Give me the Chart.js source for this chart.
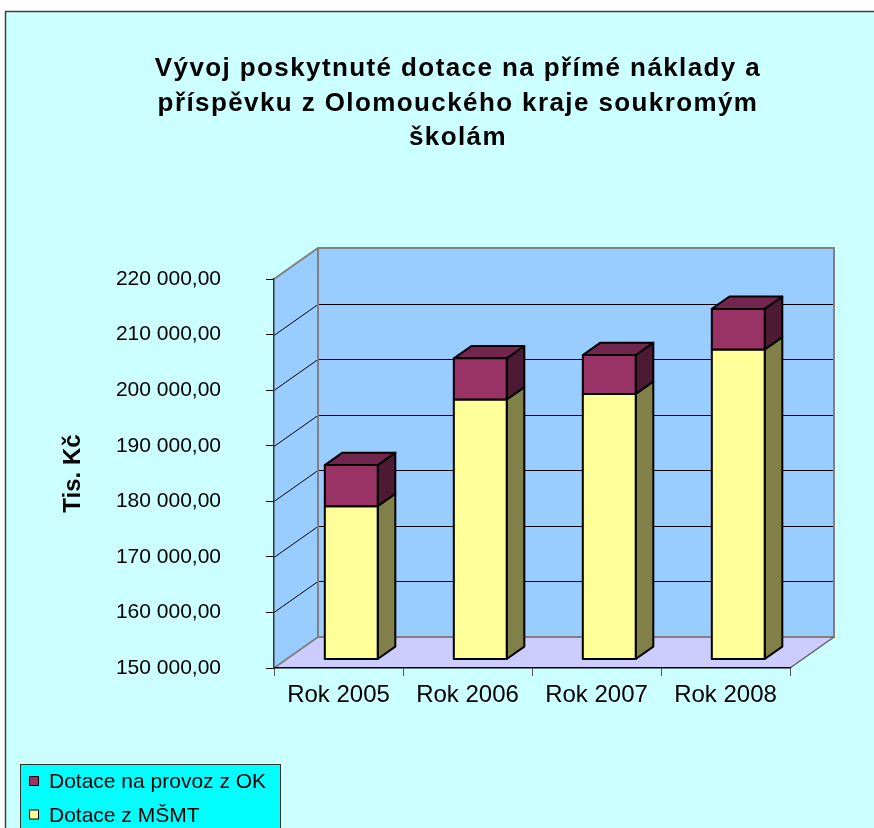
<!DOCTYPE html>
<html lang="cs">
<head>
<meta charset="utf-8">
<title>Vývoj poskytnuté dotace</title>
<script src="https://cdn.jsdelivr.net/npm/chart.js@4.4.1/dist/chart.umd.min.js"></script>
<style>
  html, body { margin: 0; padding: 0; background: #fff; overflow: hidden; }
  canvas { display: block; }
</style>
</head>
<body>
<canvas id="chart" width="874" height="828"></canvas>
<script>
const Categories = ["Rok 2005", "Rok 2006", "Rok 2007", "Rok 2008"];
const DotaceMSMT = [177500, 196700, 197700, 205700];
const DotaceOK = [7400, 7400, 7000, 7300];
const AxisMin = 150000;
const AxisMax = 220000;
const AxisStep = 10000;
const TitleLines = [
  "Vývoj poskytnuté dotace na přímé náklady a",
  "příspěvku z Olomouckého kraje soukromým",
  "školám"
];
const AxisTitle = "Tis. Kč";

// 3D look: how far the back wall sits behind the front plane, and where bars sit in that depth
const Depth = { x: 44, y: 31 };
const BarFront = 0.29;
const BarBack = 0.69;

const FontFamily = '"Liberation Sans", Arial, sans-serif';
Chart.defaults.font.family = FontFamily;
Chart.defaults.color = "#000";

function FormatCzk(value) {
  return String(value).replace(/\B(?=(\d{3})+(?!\d))/g, " ") + ",00";
}

function Poly(ctx, pts, fill, stroke, width) {
  ctx.beginPath();
  ctx.moveTo(pts[0][0], pts[0][1]);
  for (let i = 1; i < pts.length; i++) ctx.lineTo(pts[i][0], pts[i][1]);
  ctx.closePath();
  if (fill) { ctx.fillStyle = fill; ctx.fill(); }
  if (stroke) { ctx.strokeStyle = stroke; ctx.lineWidth = width || 1; ctx.stroke(); }
}

const Frame3D = {
  id: "frame3d",
  beforeDraw(chart) {
    const { ctx, chartArea: a, scales } = chart;
    const dx = Depth.x, dy = Depth.y;
    ctx.save();
    // page + chart background
    ctx.fillStyle = "#fff";
    ctx.fillRect(0, 0, chart.width, chart.height);
    ctx.fillStyle = "#CCFFFF";
    ctx.fillRect(5, 11, chart.width, chart.height);
    ctx.strokeStyle = "#404040";
    ctx.lineWidth = 1.5;
    ctx.strokeRect(5.5, 11.5, chart.width + 10, chart.height + 10);

    // title
    ctx.font = "bold 26px " + FontFamily;
    ctx.letterSpacing = "1.4px";
    ctx.textAlign = "center";
    ctx.textBaseline = "alphabetic";
    ctx.fillStyle = "#000";
    TitleLines.forEach((line, i) => ctx.fillText(line, 458, 76 + i * 34.6));
    ctx.letterSpacing = "0px";

    // walls and floor
    Poly(ctx, [[a.left + dx, a.top - dy], [a.right + dx, a.top - dy], [a.right + dx, a.bottom - dy], [a.left + dx, a.bottom - dy]], "#99CCFF");
    Poly(ctx, [[a.left, a.top], [a.left + dx, a.top - dy], [a.left + dx, a.bottom - dy], [a.left, a.bottom]], "#99CCFF");
    Poly(ctx, [[a.left, a.bottom], [a.left + dx, a.bottom - dy], [a.right + dx, a.bottom - dy], [a.right, a.bottom]], "#CCCCFF");

    // grid lines on the left and back walls
    ctx.strokeStyle = "#000";
    ctx.lineWidth = 1;
    scales.y.ticks.forEach(t => {
      if (t.value <= AxisMin || t.value >= AxisMax) return;
      const y = Math.round(scales.y.getPixelForValue(t.value)) + 0.5;
      ctx.beginPath();
      ctx.moveTo(a.left, y);
      ctx.lineTo(a.left + dx, y - dy);
      ctx.lineTo(a.right + dx, y - dy);
      ctx.stroke();
    });

    // wall edges
    ctx.strokeStyle = "#808080";
    ctx.lineWidth = 2;
    ctx.beginPath();
    ctx.moveTo(a.left, a.top);
    ctx.lineTo(a.left + dx, a.top - dy);
    ctx.lineTo(a.right + dx, a.top - dy);
    ctx.lineTo(a.right + dx, a.bottom - dy);
    ctx.lineTo(a.left + dx, a.bottom - dy);
    ctx.lineTo(a.left + dx, a.top - dy);
    ctx.moveTo(a.left, a.bottom);
    ctx.lineTo(a.left + dx, a.bottom - dy);
    ctx.stroke();
    ctx.strokeStyle = "#606060";
    ctx.lineWidth = 1.5;
    ctx.beginPath();
    ctx.moveTo(a.right, a.bottom);
    ctx.lineTo(a.right + dx, a.bottom - dy);
    ctx.stroke();

    // legend box, top series first
    ctx.fillStyle = "#00FFFF";
    ctx.fillRect(20, 764, 260, 80);
    ctx.strokeStyle = "#333";
    ctx.lineWidth = 1;
    ctx.strokeRect(20.5, 764.5, 260, 80);
    ctx.font = "21px " + FontFamily;
    ctx.textAlign = "left";
    const items = chart.data.datasets.slice().reverse();
    items.forEach((ds, k) => {
      const base = 788 + k * 33.5;
      ctx.fillStyle = ds.faces.front;
      ctx.fillRect(29.5, base - 11.5, 9, 9);
      ctx.strokeStyle = "#000";
      ctx.strokeRect(29.5, base - 11.5, 9, 9);
      ctx.fillStyle = "#000";
      ctx.fillText(ds.label, 49, base);
    });
    ctx.restore();
  },
  afterDatasetsDraw(chart) {
    const { ctx, chartArea: a } = chart;
    const ox = BarFront * Depth.x, oy = -BarFront * Depth.y;
    const bx = (BarBack - BarFront) * Depth.x, by = -(BarBack - BarFront) * Depth.y;
    const count = chart.data.labels.length;
    const last = chart.data.datasets.length - 1;
    ctx.save();
    ctx.lineJoin = "round";
    for (let i = 0; i < count; i++) {
      chart.data.datasets.forEach((ds, d) => {
        const el = chart.getDatasetMeta(d).data[i];
        const p = el.getProps(["x", "y", "base", "width"], true);
        const x0 = p.x - p.width / 2 + ox, x1 = p.x + p.width / 2 + ox;
        const top = Math.max(p.y, a.top) + oy;
        const bottom = Math.min(p.base, a.bottom) + oy;
        const f = ds.faces;
        Poly(ctx, [[x1, top], [x1 + bx, top + by], [x1 + bx, bottom + by], [x1, bottom]], f.side, "#000", 2);
        if (d === last) {
          Poly(ctx, [[x0, top], [x0 + bx, top + by], [x1 + bx, top + by], [x1, top]], f.top, "#000", 2);
        }
        Poly(ctx, [[x0, top], [x1, top], [x1, bottom], [x0, bottom]], f.front, "#000", 2);
      });
    }
    ctx.restore();
  }
};

new Chart(document.getElementById("chart"), {
  type: "bar",
  data: {
    labels: Categories,
    datasets: [
      {
        label: "Dotace z MŠMT",
        data: DotaceMSMT,
        backgroundColor: "transparent",
        borderWidth: 0,
        faces: { front: "#FFFF99", side: "#808048", top: "#C0C070" }
      },
      {
        label: "Dotace na provoz z OK",
        data: DotaceOK,
        backgroundColor: "transparent",
        borderWidth: 0,
        faces: { front: "#993366", side: "#4D1A33", top: "#73264D" }
      }
    ]
  },
  options: {
    responsive: false,
    animation: false,
    events: [],
    layout: { padding: { left: 0, top: 279, right: 84, bottom: 0 } },
    datasets: { bar: { categoryPercentage: 1, barPercentage: 0.41 } },
    plugins: {
      legend: { display: false },
      title: { display: false },
      tooltip: { enabled: false }
    },
    scales: {
      x: {
        stacked: true,
        afterFit(scale) { scale.height = 160; },
        grid: { offset: true, drawOnChartArea: false, tickLength: 8, color: "#555" },
        border: { display: true, color: "#000", width: 1.5 },
        ticks: { padding: 5, font: { size: 24 }, color: "#000" }
      },
      y: {
        stacked: true,
        min: AxisMin,
        max: AxisMax,
        beginAtZero: false,
        afterFit(scale) { scale.width = 274; },
        grid: { drawOnChartArea: false, tickLength: 8, color: "#000" },
        border: { display: true, color: "#333", width: 1.5 },
        ticks: {
          stepSize: AxisStep,
          padding: 45,
          font: { size: 21 },
          color: "#000",
          callback: v => FormatCzk(v)
        },
        title: {
          display: true,
          text: AxisTitle,
          font: { size: 24, weight: "bold" },
          color: "#000",
          padding: { top: 59, bottom: 0 }
        }
      }
    }
  },
  plugins: [Frame3D]
});
</script>
</body>
</html>
